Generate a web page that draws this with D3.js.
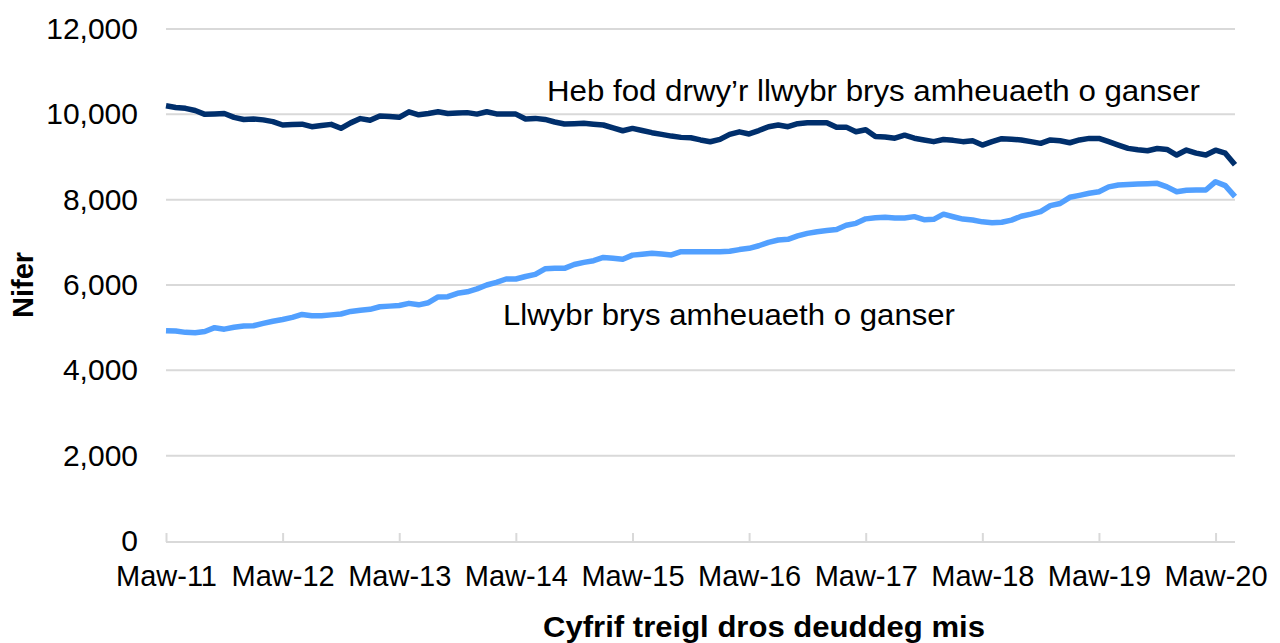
<!DOCTYPE html>
<html>
<head>
<meta charset="utf-8">
<script src="https://cdn.jsdelivr.net/npm/d3@7"></script>
<style>
  body { margin: 0; background: #fff; }
  svg text { font-family: "Liberation Sans", Arial, sans-serif; fill: #000; }
</style>
</head>
<body>
<svg id="chart" width="1280" height="643"></svg>
<script>
// ---- Data ----
const seriesNames = ["Heb fod drwy\u2019r llwybr brys amheuaeth o ganser", "Llwybr brys amheuaeth o ganser"];
const nonUrgent = [
  10200,10160,10140,10090,10000,10010,10020,9930,9880,9890,
  9870,9830,9750,9760,9770,9710,9740,9765,9672,9800,
  9900,9860,9960,9950,9930,10060,9990,10020,10060,10020,
  10030,10040,10005,10060,10010,10005,10005,9890,9905,9880,
  9820,9775,9780,9790,9770,9750,9680,9615,9670,9620,
  9570,9530,9490,9460,9450,9400,9357,9413,9530,9590,
  9540,9620,9710,9750,9710,9780,9805,9805,9805,9695,
  9700,9593,9640,9480,9470,9440,9510,9440,9400,9360,
  9410,9390,9360,9380,9280,9360,9430,9415,9400,9360,
  9320,9400,9380,9334,9400,9436,9436,9360,9280,9202,
  9170,9147,9200,9178,9046,9163,9090,9046,9160,9090,
  8820
];
const urgent = [
  4930,4920,4890,4882,4910,5000,4965,5010,5040,5046,
  5100,5150,5190,5240,5310,5280,5281,5300,5320,5380,
  5410,5430,5490,5505,5520,5570,5535,5585,5720,5726,
  5805,5840,5910,6000,6060,6140,6140,6200,6250,6380,
  6391,6391,6480,6530,6570,6645,6625,6602,6700,6720,
  6742,6725,6705,6781,6781,6781,6781,6781,6790,6830,
  6860,6920,7000,7054,7070,7150,7210,7250,7275,7300,
  7400,7445,7550,7575,7590,7570,7570,7602,7530,7539,
  7660,7600,7545,7523,7480,7461,7470,7520,7610,7660,
  7718,7860,7910,8055,8100,8149,8187,8300,8343,8355,
  8367,8375,8382,8300,8187,8220,8226,8226,8421,8330,
  8070
];
const yTicks = [0, 2000, 4000, 6000, 8000, 10000, 12000];
const xTickLabels = ["Maw-11","Maw-12","Maw-13","Maw-14","Maw-15","Maw-16","Maw-17","Maw-18","Maw-19","Maw-20"];
const yTitle = "Nifer";
const xTitle = "Cyfrif treigl dros deuddeg mis";

// ---- Layout ----
const svg = d3.select("#chart");
const plotLeft = 166, plotRight = 1235, plotTop = 29, plotBottom = 541;
const n = urgent.length;
const fontFam = "'Liberation Sans', Arial, sans-serif";

const x = d3.scaleLinear().domain([0, n - 1]).range([plotLeft, plotRight]);
const y = d3.scaleLinear().domain([0, 12000]).range([plotBottom, plotTop]);

// Gridlines
svg.append("g").selectAll("line")
  .data(yTicks.filter(d => d > 0))
  .join("line")
  .attr("x1", plotLeft).attr("x2", plotRight)
  .attr("y1", d => y(d)).attr("y2", d => y(d))
  .attr("stroke", "#d9d9d9").attr("stroke-width", 2);

// Y axis labels
const yAxis = d3.axisLeft(y).tickValues(yTicks).tickSize(0).tickPadding(0)
  .tickFormat(d3.format(","));
const gy = svg.append("g").attr("transform", "translate(138,0)").call(yAxis);
gy.select(".domain").remove();
gy.selectAll("text").attr("font-size", 30).attr("fill", "#000")
  .style("font-family", fontFam);

// X axis (ticks at each March, inward ticks)
const xTickIdx = xTickLabels.map((_, i) => i * 12);
const xAxis = d3.axisBottom(x).tickValues(xTickIdx).tickSize(0).tickPadding(0)
  .tickFormat((d, i) => xTickLabels[i]);
const gx = svg.append("g").attr("transform", `translate(0,${plotBottom + 1})`).call(xAxis);
gx.select(".domain").attr("stroke", "#d9d9d9").attr("stroke-width", 2)
  .attr("d", `M${plotLeft},0H${plotRight}`);
gx.selectAll("text").attr("font-size", 29).attr("fill", "#000").attr("dy", 0).attr("y", 44)
  .style("font-family", fontFam);
gx.selectAll(".tick").append("line")
  .attr("y1", -9).attr("y2", 0).attr("stroke", "#d9d9d9").attr("stroke-width", 2);

// Lines
const line = d3.line().x((d, i) => x(i)).y(d => y(d));
svg.append("path").datum(urgent)
  .attr("fill", "none").attr("stroke", "#52a0ff").attr("stroke-width", 5.5)
  .attr("stroke-linejoin", "round").attr("d", line);
svg.append("path").datum(nonUrgent)
  .attr("fill", "none").attr("stroke", "#002f6c").attr("stroke-width", 5.5)
  .attr("stroke-linejoin", "round").attr("d", line);

// Series annotations
svg.append("text").attr("x", 547).attr("y", 101).attr("font-size", 30)
  .attr("textLength", 653).attr("lengthAdjust", "spacingAndGlyphs").text(seriesNames[0]);
svg.append("text").attr("x", 503).attr("y", 325).attr("font-size", 30)
  .attr("textLength", 452).attr("lengthAdjust", "spacingAndGlyphs").text(seriesNames[1]);

// Axis titles
svg.append("text").attr("transform", "translate(33,285) rotate(-90)")
  .attr("text-anchor", "middle").attr("font-size", 29).attr("font-weight", "bold").text(yTitle);
svg.append("text").attr("x", 764).attr("y", 637)
  .attr("text-anchor", "middle").attr("font-size", 29).attr("font-weight", "bold")
  .attr("textLength", 442).attr("lengthAdjust", "spacingAndGlyphs").text(xTitle);
</script>
</body>
</html>
